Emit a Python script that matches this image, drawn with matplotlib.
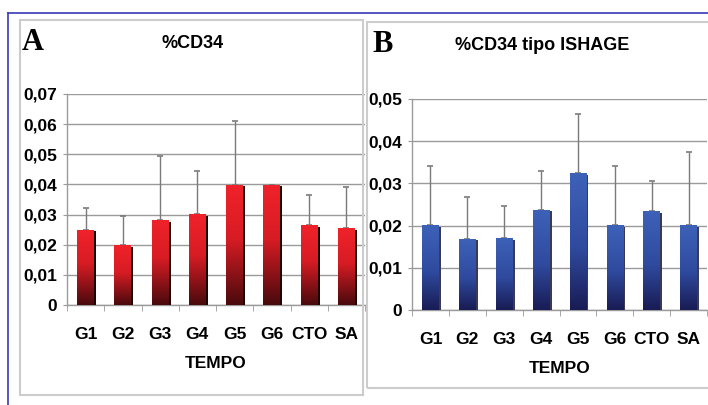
import numpy as np
import matplotlib
matplotlib.use("Agg")
import matplotlib.pyplot as plt
from matplotlib.colors import LinearSegmentedColormap
from matplotlib.patches import Rectangle
from matplotlib.lines import Line2D
from matplotlib.ticker import FuncFormatter

# -----------------------------
# data
# -----------------------------
groups = ["G1", "G2", "G3", "G4", "G5", "G6", "CTO", "SA"]

cd34_mean = [0.025, 0.0198, 0.0282, 0.0301, 0.0399, 0.0399, 0.0266, 0.0255]
cd34_top = [0.0322, 0.0295, 0.0495, 0.0443, 0.0611, 0.0399, 0.0365, 0.0390]

ishage_mean = [0.0201, 0.0169, 0.0171, 0.0238, 0.0324, 0.0201, 0.0235, 0.0201]
ishage_top = [0.0342, 0.0267, 0.0246, 0.0329, 0.0464, 0.0342, 0.0305, 0.0375]

plt.rcParams["font.family"] = ["Liberation Sans", "DejaVu Sans"]
plt.rcParams["font.weight"] = "bold"

red_cmap = LinearSegmentedColormap.from_list(
    "red", [(0, "#4a0a0c"), (0.55, "#d81c24"), (1, "#f0222a")])
blue_cmap = LinearSegmentedColormap.from_list(
    "blue", [(0, "#191c55"), (0.45, "#2f4a9e"), (1, "#3d62b8")])

fig = plt.figure(figsize=(7.08, 4.05), dpi=100)
fig.patch.set_facecolor("white")

W, H = 708, 405


def fx(px):
    return px / W


def fy(py):
    return 1 - py / H


# outer blue frame and panel boxes
fig.add_artist(Line2D([fx(8), 1], [fy(12.5), fy(12.5)], color="#3a3ab8", lw=1.2))
fig.add_artist(Line2D([fx(8), fx(8)], [0, fy(12.5)], color="#3a3ab8", lw=1.2))
fig.add_artist(Rectangle((fx(20), fy(395)), fx(343), (395 - 20) / H,
                         fill=False, ec="#cccccc", lw=1.5))
fig.add_artist(Rectangle((fx(367), fy(388)), fx(345), (388 - 22) / H,
                         fill=False, ec="#cccccc", lw=1.5))


def panel(rect, means, tops, ymax, cmap, shadow, title, letter, title_xy, letter_xy):
    ax = fig.add_axes(rect)
    x = np.arange(len(groups))
    w = 0.45
    lower = np.zeros(len(means))
    upper = np.array(tops) - np.array(means)

    ax.errorbar(x, means, yerr=[lower, upper], fmt="none", ecolor="#7a7a7a",
                elinewidth=1.0, capsize=2.5, capthick=1.2, zorder=2)
    ax.bar(x + 0.06, np.array(means) - ymax * 0.008, width=w, bottom=0,
           color=shadow, zorder=3)
    bars = ax.bar(x, means, width=w, color="none", zorder=4)
    grad = np.linspace(0, 1, 100).reshape(-1, 1)
    for b in bars:
        x0, y0 = b.get_x(), b.get_y()
        im = ax.imshow(grad, extent=[x0, x0 + b.get_width(), y0, y0 + b.get_height()],
                       origin="lower", aspect="auto", cmap=cmap, zorder=4)
        im.set_clip_path(b)

    ax.set_xlim(-0.5, len(groups) - 0.5)
    ax.set_ylim(0, ymax)
    ax.set_yticks(np.arange(0, ymax + 1e-9, 0.01))
    ax.yaxis.set_major_formatter(FuncFormatter(
        lambda v, p: "0" if abs(v) < 1e-9 else f"{v:.2f}".replace(".", ",")))
    ax.grid(axis="y", color="#9a9a9a", lw=1.0, zorder=0)
    ax.set_axisbelow(True)
    for s in ["top", "right"]:
        ax.spines[s].set_visible(False)
    for s in ["left", "bottom"]:
        ax.spines[s].set_color("#9a9a9a")
        ax.spines[s].set_linewidth(1.0)

    ax.set_xticks(x)
    ax.set_xticklabels(groups, fontsize=12.5, fontweight="bold")
    ax.set_xticks(np.arange(-0.5, len(groups)), minor=True)
    ax.tick_params(axis="x", which="major", length=0, pad=16)
    ax.tick_params(axis="x", which="minor", length=4, color="#9a9a9a")
    ax.tick_params(axis="y", length=3, color="#9a9a9a", labelsize=12.5, pad=4)
    for t in ax.get_yticklabels():
        t.set_fontweight("bold")
    ax.set_xlabel("TEMPO", fontsize=12.5, fontweight="bold", labelpad=10)

    fig.text(fx(title_xy[0]), fy(title_xy[1]), title, ha="center", va="center",
             fontsize=13, fontweight="bold")
    fig.text(fx(letter_xy[0]), fy(letter_xy[1]), letter, ha="center", va="center",
             fontsize=22, fontweight="bold", family="Liberation Serif")
    return ax


panel([fx(67), fy(305), fx(365 - 67), (305 - 94) / H], cd34_mean, cd34_top, 0.07,
      red_cmap, "#1a0505", "%CD34", "A", (193, 43), (33, 43))
panel([fx(412), fy(310), fx(707 - 412), (310 - 99) / H], ishage_mean, ishage_top, 0.05,
      blue_cmap, "#3a3a55", "%CD34 tipo ISHAGE", "B", (542, 45), (383, 45))

fig.savefig("out.png", dpi=100, facecolor="white")
